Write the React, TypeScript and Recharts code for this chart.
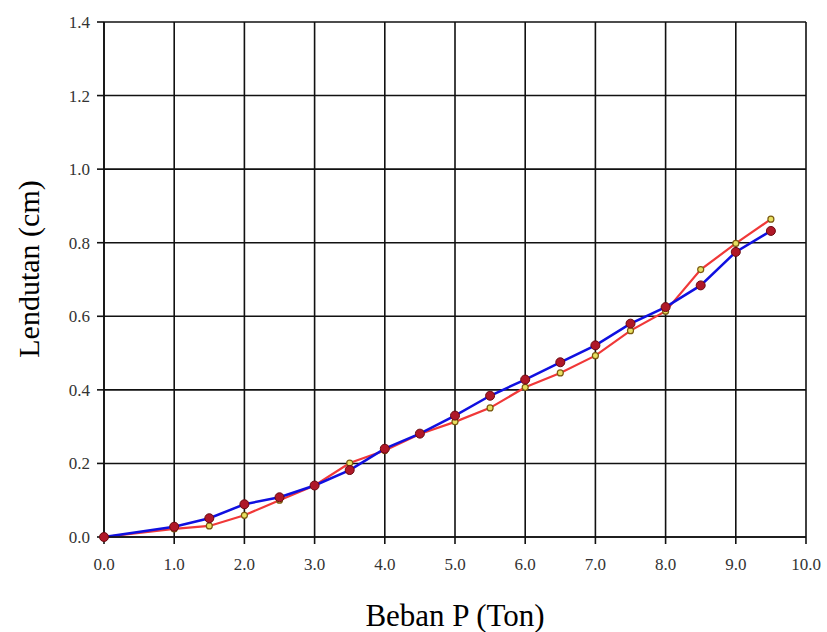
import { LineChart, Line, XAxis, YAxis, CartesianGrid, Label } from 'recharts'

const loads = [0, 1, 1.5, 2, 2.5, 3, 3.5, 4, 4.5, 5, 5.5, 6, 6.5, 7, 7.5, 8, 8.5, 9, 9.5]
const deflA = [0, 0.028, 0.051, 0.089, 0.108, 0.14, 0.182, 0.24, 0.281, 0.33, 0.384, 0.428, 0.475, 0.521, 0.58, 0.625, 0.684, 0.775, 0.832]
const deflB = [0, 0.022, 0.03, 0.059, 0.1, 0.14, 0.201, 0.235, 0.28, 0.313, 0.351, 0.407, 0.446, 0.493, 0.561, 0.614, 0.727, 0.798, 0.864]
const xTicks = [0, 1, 2, 3, 4, 5, 6, 7, 8, 9, 10]
const yTicks = [0, 0.2, 0.4, 0.6, 0.8, 1.0, 1.2, 1.4]

const data = loads.map((p, i) => ({ p, a: deflA[i], b: deflB[i] }))

const serif = '"Liberation Serif", "Times New Roman", serif'
const tickStyle = { fill: '#333', fontSize: 17, fontFamily: serif }

export default function App() {
  return (
    <div style={{ position: 'absolute', left: 0, top: 0, background: '#fff' }}>
      <LineChart width={827} height={632} data={data} margin={{ top: 22, right: 21, left: 44, bottom: 55 }}>
        <CartesianGrid stroke="#111" strokeWidth={1.6} />
        <XAxis
          dataKey="p"
          type="number"
          domain={[0, 10]}
          ticks={xTicks}
          tickFormatter={(v: number) => v.toFixed(1)}
          tick={tickStyle}
          tickSize={7}
          tickMargin={14}
          height={40}
          stroke="#111"
          strokeWidth={1.6}
        >
          <Label
            content={(props: any) => {
              const vb = props.viewBox || { x: 104, width: 702 }
              return (
                <text x={vb.x + vb.width / 2} y={626} textAnchor="middle" fontSize={31} fontFamily={serif} fill="#000">
                  Beban P (Ton)
                </text>
              )
            }}
          />
        </XAxis>
        <YAxis
          type="number"
          domain={[0, 1.4]}
          ticks={yTicks}
          tickFormatter={(v: number) => v.toFixed(1)}
          tick={tickStyle}
          tickSize={7}
          tickMargin={7}
          width={60}
          stroke="#111"
          strokeWidth={1.6}
        >
          <Label
            content={() => (
              <text x={39} y={269} transform="rotate(-90 39 269)" textAnchor="middle" fontSize={30} fontFamily={serif} fill="#000">
                Lendutan (cm)
              </text>
            )}
          />
        </YAxis>
        <Line
          dataKey="b"
          stroke="#f03838"
          strokeWidth={2.2}
          dot={{ r: 3, fill: '#e8e060', stroke: '#7a5a10', strokeWidth: 1.2 }}
          isAnimationActive={false}
        />
        <Line
          dataKey="a"
          stroke="#1010e0"
          strokeWidth={2.5}
          dot={{ r: 4.5, fill: '#b01828', stroke: '#6a0a10', strokeWidth: 1 }}
          isAnimationActive={false}
        />
      </LineChart>
    </div>
  )
}
